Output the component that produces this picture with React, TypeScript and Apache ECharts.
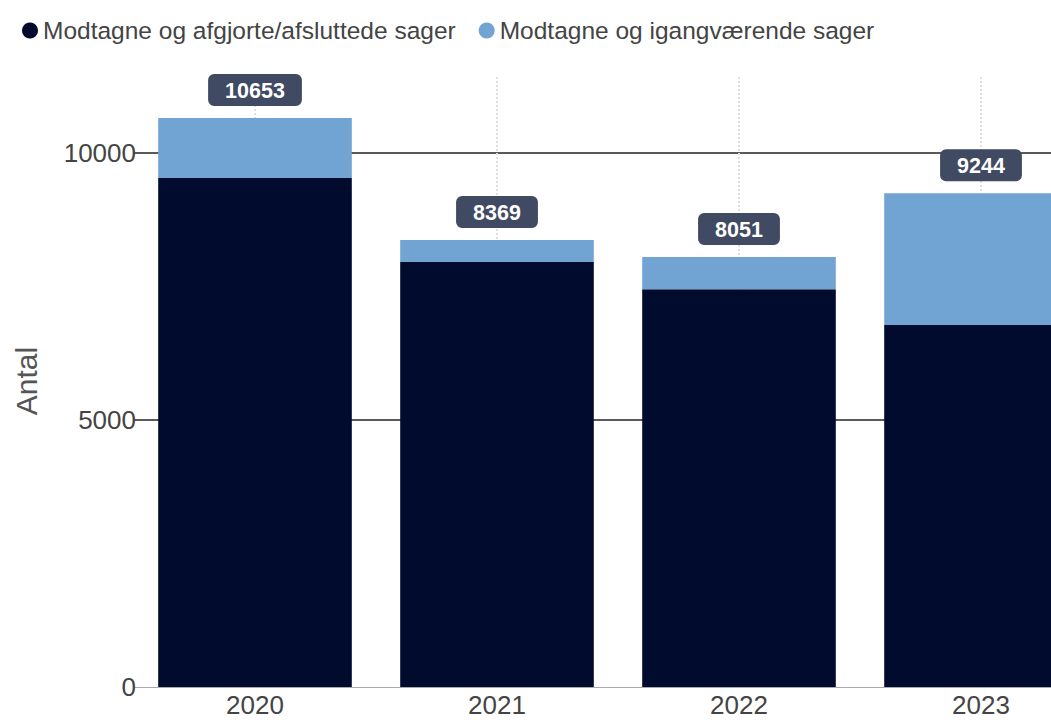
import React, { useEffect, useRef } from "react";
import * as echarts from "echarts";

const years = ["2020", "2021", "2022", "2023"];
const afgjorte = [9530, 7960, 7450, 6780];
const igangvaerende = [1123, 409, 601, 2464];
const totals = [10653, 8369, 8051, 9244];
const seriesNames = ["Modtagne og afgjorte/afsluttede sager", "Modtagne og igangværende sager"];

const FONT = "Liberation Sans, Arial, sans-serif";

export default function App() {
  const ref = useRef<HTMLDivElement>(null);
  useEffect(() => {
    if (!ref.current) return;
    const chart = echarts.init(ref.current, null, { renderer: "svg" });
    chart.setOption({
      animation: false,
      backgroundColor: "#ffffff",
      textStyle: { fontFamily: FONT },
      legend: {
        left: 17,
        top: 13,
        icon: "circle",
        itemWidth: 16,
        itemHeight: 16,
        itemGap: 23,
        textStyle: { fontSize: 24.5, color: "#444", fontFamily: FONT },
        data: seriesNames,
      },
      grid: {
        left: 134,
        width: 968,
        top: 75,
        bottom: 35,
        containLabel: false,
        outerBoundsMode: "none",
      },
      xAxis: {
        type: "category",
        data: years,
        axisLine: { show: true, lineStyle: { color: "#aaa", width: 1 } },
        axisTick: { show: false },
        axisLabel: { fontSize: 26, color: "#444", margin: 5, fontFamily: FONT },
        splitLine: { show: false },
      },
      yAxis: {
        type: "value",
        min: 0,
        max: 11460,
        interval: 5000,
        name: "Antal",
        nameLocation: "middle",
        nameRotate: 90,
        nameGap: 93,
        nameTextStyle: { fontSize: 30, color: "#555", fontFamily: FONT },
        axisLine: { show: false },
        axisTick: { show: false },
        axisLabel: {
          fontSize: 26,
          color: "#444",
          margin: -2,
          showMaxLabel: false,
          fontFamily: FONT,
          formatter: (v: number) => String(v),
        },
        splitLine: { show: true, showMinLine: false, showMaxLine: false, lineStyle: { color: "#5a5a5a", width: 2 } },
      },
      series: [
        {
          name: seriesNames[0],
          type: "bar",
          stack: "total",
          data: afgjorte,
          barCategoryGap: "20%",
          itemStyle: { color: "#010b2e" },
        },
        {
          name: seriesNames[1],
          type: "bar",
          stack: "total",
          data: igangvaerende,
          barCategoryGap: "20%",
          itemStyle: { color: "#71a4d3" },
          label: {
            show: true,
            position: "top",
            distance: 12,
            formatter: (p: any) => String(totals[p.dataIndex]),
            backgroundColor: "#414a63",
            borderRadius: 6,
            padding: [6, 17, 5, 17],
            color: "#ffffff",
            fontWeight: "bold",
            fontSize: 21.5,
            lineHeight: 21,
            fontFamily: FONT,
          },
          markLine: {
            silent: true,
            z: 1,
            symbol: "none",
            label: { show: false },
            lineStyle: { type: "dotted", color: "#e0e0e0", width: 2 },
            data: years.map((y) => ({ xAxis: y })),
          },
        },
      ],
    });
    return () => chart.dispose();
  }, []);
  return (
    <div
      ref={ref}
      style={{ position: "absolute", left: 0, top: 0, width: 1051, height: 722 }}
    />
  );
}
